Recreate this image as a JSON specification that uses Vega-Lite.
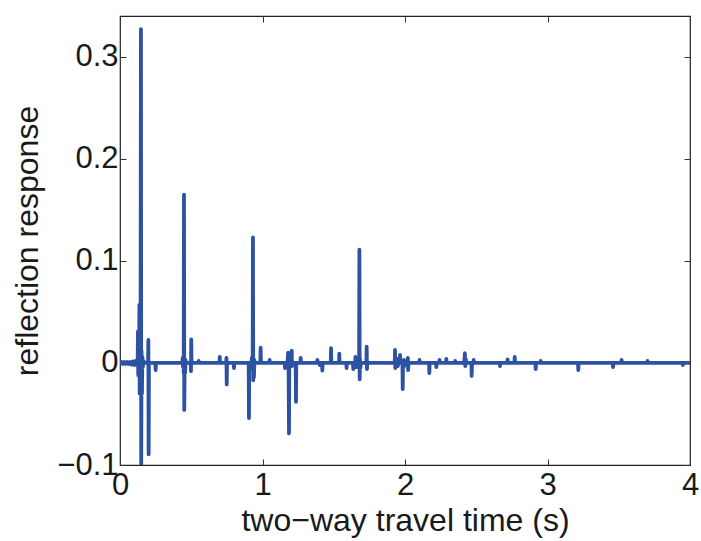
{
  "$schema": "https://vega.github.io/schema/vega-lite/v6.json",
  "autosize": "none",
  "width": 570,
  "height": 449,
  "padding": {"left": 120, "top": 16, "right": 11, "bottom": 76},
  "background": "white",
  "config": {
    "view": {"stroke": "#222222", "strokeWidth": 1.2},
    "font": "Liberation Sans",
    "axis": {
      "grid": false,
      "domain": false,
      "tickColor": "#333333",
      "tickWidth": 1,
      "tickSize": -6,
      "labelFont": "Liberation Sans",
      "labelFontSize": 31,
      "labelColor": "#1a1a1a",
      "titleFont": "Liberation Sans",
      "titleFontSize": 32,
      "titleFontWeight": "normal",
      "titleColor": "#1a1a1a"
    }
  },
  "data": {
    "values": [
      {"t": 0, "v": 0}, {"t": 0.01, "v": 0.001}, {"t": 0.02, "v": -0.001}, {"t": 0.03, "v": 0.001}, {"t": 0.04, "v": -0.001},
      {"t": 0.05, "v": 0.001}, {"t": 0.06, "v": -0.001}, {"t": 0.07, "v": 0.001}, {"t": 0.08, "v": -0.0015}, {"t": 0.09, "v": 0.0015},
      {"t": 0.10, "v": -0.002}, {"t": 0.11, "v": 0.002}, {"t": 0.118, "v": -0.002}, {"t": 0.122, "v": 0.003},
      {"t": 0.124, "v": 0}, {"t": 0.126, "v": 0.031}, {"t": 0.128, "v": -0.012}, {"t": 0.132, "v": 0.004}, {"t": 0.134, "v": -0.006},
      {"t": 0.136, "v": 0.057}, {"t": 0.138, "v": -0.03}, {"t": 0.141, "v": 0.01}, {"t": 0.144, "v": -0.005}, {"t": 0.147, "v": 0.327},
      {"t": 0.149, "v": -0.099}, {"t": 0.151, "v": 0.012}, {"t": 0.154, "v": -0.03}, {"t": 0.157, "v": 0.006}, {"t": 0.16, "v": -0.004},
      {"t": 0.165, "v": 0.002}, {"t": 0.17, "v": 0},
      {"t": 0.197, "v": 0}, {"t": 0.199, "v": 0.0225}, {"t": 0.201, "v": -0.0895}, {"t": 0.203, "v": 0},
      {"t": 0.248, "v": 0}, {"t": 0.25, "v": -0.007}, {"t": 0.252, "v": 0},
      {"t": 0.437, "v": 0}, {"t": 0.44, "v": 0.005}, {"t": 0.442, "v": -0.004}, {"t": 0.445, "v": 0.006}, {"t": 0.447, "v": -0.01},
      {"t": 0.449, "v": 0.165}, {"t": 0.451, "v": -0.046}, {"t": 0.454, "v": 0.004}, {"t": 0.457, "v": -0.01}, {"t": 0.46, "v": 0.003}, {"t": 0.463, "v": 0},
      {"t": 0.496, "v": 0}, {"t": 0.498, "v": -0.008}, {"t": 0.5, "v": 0.023}, {"t": 0.502, "v": 0},
      {"t": 0.55, "v": 0}, {"t": 0.552, "v": 0.002}, {"t": 0.554, "v": 0},
      {"t": 0.698, "v": 0}, {"t": 0.7, "v": 0.006}, {"t": 0.702, "v": 0},
      {"t": 0.745, "v": 0}, {"t": 0.747, "v": 0.005}, {"t": 0.749, "v": -0.021}, {"t": 0.751, "v": 0},
      {"t": 0.798, "v": 0}, {"t": 0.8, "v": -0.005}, {"t": 0.802, "v": 0},
      {"t": 0.903, "v": 0}, {"t": 0.905, "v": -0.054}, {"t": 0.907, "v": 0}, {"t": 0.92, "v": 0}, {"t": 0.922, "v": -0.004},
      {"t": 0.925, "v": 0.005}, {"t": 0.928, "v": -0.006}, {"t": 0.931, "v": 0}, {"t": 0.933, "v": 0.123}, {"t": 0.935, "v": -0.017},
      {"t": 0.937, "v": 0.004}, {"t": 0.94, "v": -0.014}, {"t": 0.943, "v": 0.003}, {"t": 0.946, "v": 0},
      {"t": 0.985, "v": 0}, {"t": 0.987, "v": 0.015}, {"t": 0.989, "v": 0},
      {"t": 1.048, "v": 0}, {"t": 1.05, "v": 0.003}, {"t": 1.052, "v": 0},
      {"t": 1.156, "v": 0}, {"t": 1.158, "v": -0.005}, {"t": 1.16, "v": 0}, {"t": 1.175, "v": 0}, {"t": 1.178, "v": 0.006},
      {"t": 1.18, "v": 0.01}, {"t": 1.183, "v": -0.003}, {"t": 1.186, "v": -0.069}, {"t": 1.188, "v": 0.004}, {"t": 1.19, "v": 0},
      {"t": 1.203, "v": 0}, {"t": 1.205, "v": 0.012}, {"t": 1.207, "v": -0.003}, {"t": 1.21, "v": 0},
      {"t": 1.233, "v": 0}, {"t": 1.235, "v": -0.038}, {"t": 1.237, "v": 0},
      {"t": 1.266, "v": 0}, {"t": 1.268, "v": 0.005}, {"t": 1.27, "v": 0},
      {"t": 1.383, "v": 0}, {"t": 1.385, "v": 0.003}, {"t": 1.387, "v": 0}, {"t": 1.4, "v": 0}, {"t": 1.402, "v": -0.002}, {"t": 1.404, "v": 0},
      {"t": 1.418, "v": 0}, {"t": 1.42, "v": -0.0075}, {"t": 1.422, "v": 0},
      {"t": 1.479, "v": 0}, {"t": 1.481, "v": 0.0144}, {"t": 1.483, "v": 0},
      {"t": 1.537, "v": 0}, {"t": 1.539, "v": 0.009}, {"t": 1.541, "v": 0},
      {"t": 1.588, "v": 0}, {"t": 1.59, "v": -0.005}, {"t": 1.592, "v": 0},
      {"t": 1.635, "v": 0}, {"t": 1.637, "v": -0.006}, {"t": 1.64, "v": 0}, {"t": 1.65, "v": 0}, {"t": 1.652, "v": 0.006},
      {"t": 1.655, "v": -0.004}, {"t": 1.66, "v": 0.003}, {"t": 1.665, "v": -0.004}, {"t": 1.67, "v": 0}, {"t": 1.678, "v": 0},
      {"t": 1.68, "v": 0.111}, {"t": 1.682, "v": -0.016}, {"t": 1.684, "v": 0.004}, {"t": 1.687, "v": -0.005}, {"t": 1.69, "v": 0},
      {"t": 1.729, "v": 0}, {"t": 1.731, "v": 0.016}, {"t": 1.733, "v": -0.006}, {"t": 1.735, "v": 0},
      {"t": 1.928, "v": 0}, {"t": 1.93, "v": 0.0127}, {"t": 1.932, "v": -0.005}, {"t": 1.934, "v": 0}, {"t": 1.945, "v": 0},
      {"t": 1.947, "v": 0.004}, {"t": 1.95, "v": -0.003}, {"t": 1.953, "v": 0},
      {"t": 1.963, "v": 0}, {"t": 1.965, "v": 0.008}, {"t": 1.967, "v": 0}, {"t": 1.982, "v": 0}, {"t": 1.984, "v": -0.0255},
      {"t": 1.986, "v": 0}, {"t": 1.99, "v": 0}, {"t": 1.992, "v": 0.003}, {"t": 1.995, "v": -0.003}, {"t": 1.998, "v": 0},
      {"t": 2.018, "v": 0}, {"t": 2.02, "v": 0.005}, {"t": 2.022, "v": -0.007}, {"t": 2.025, "v": 0},
      {"t": 2.1, "v": 0}, {"t": 2.102, "v": 0.003}, {"t": 2.104, "v": 0},
      {"t": 2.169, "v": 0}, {"t": 2.171, "v": -0.01}, {"t": 2.173, "v": 0},
      {"t": 2.218, "v": 0}, {"t": 2.22, "v": -0.004}, {"t": 2.222, "v": 0}, {"t": 2.24, "v": 0}, {"t": 2.242, "v": 0.003}, {"t": 2.244, "v": 0},
      {"t": 2.288, "v": 0}, {"t": 2.29, "v": 0.004}, {"t": 2.292, "v": 0},
      {"t": 2.35, "v": 0}, {"t": 2.352, "v": 0.002}, {"t": 2.354, "v": 0},
      {"t": 2.415, "v": 0}, {"t": 2.418, "v": 0.005}, {"t": 2.42, "v": 0.0095}, {"t": 2.423, "v": -0.003}, {"t": 2.426, "v": 0.004}, {"t": 2.43, "v": 0},
      {"t": 2.466, "v": 0}, {"t": 2.468, "v": -0.0127}, {"t": 2.47, "v": 0},
      {"t": 2.48, "v": 0}, {"t": 2.482, "v": 0.003}, {"t": 2.484, "v": 0},
      {"t": 2.665, "v": 0}, {"t": 2.667, "v": -0.003}, {"t": 2.669, "v": 0},
      {"t": 2.718, "v": 0}, {"t": 2.72, "v": 0.0036}, {"t": 2.722, "v": 0},
      {"t": 2.768, "v": 0}, {"t": 2.77, "v": 0.006}, {"t": 2.772, "v": 0},
      {"t": 2.915, "v": 0}, {"t": 2.917, "v": -0.006}, {"t": 2.919, "v": 0},
      {"t": 2.95, "v": 0}, {"t": 2.952, "v": 0.002}, {"t": 2.954, "v": 0},
      {"t": 3.214, "v": 0}, {"t": 3.216, "v": -0.007}, {"t": 3.218, "v": 0},
      {"t": 3.458, "v": 0}, {"t": 3.46, "v": -0.004}, {"t": 3.462, "v": 0},
      {"t": 3.518, "v": 0}, {"t": 3.52, "v": 0.003}, {"t": 3.522, "v": 0},
      {"t": 3.7, "v": 0}, {"t": 3.702, "v": 0.002}, {"t": 3.704, "v": 0},
      {"t": 3.948, "v": 0}, {"t": 3.95, "v": -0.002}, {"t": 3.952, "v": 0},
      {"t": 4.0, "v": 0}
    ]
  },
  "layer": [
    {
      "mark": {"type": "line", "color": "#2d51a3", "strokeWidth": 3.8, "strokeJoin": "round", "strokeCap": "round", "clip": true},
      "encoding": {
        "x": {"field": "t", "type": "quantitative", "scale": {"domain": [0, 4], "nice": false, "zero": false},
          "axis": {"values": [0, 1, 2, 3, 4], "format": "~g", "title": "two\u2212way travel time (s)", "labelPadding": 11, "titlePadding": 5, "labelFlush": false}},
        "y": {"field": "v", "type": "quantitative", "scale": {"domain": [-0.1, 0.34], "nice": false, "zero": false},
          "axis": {"values": [-0.1, 0, 0.1, 0.2, 0.3], "format": "~g", "title": "reflection response", "labelPadding": 8, "titlePadding": 12, "labelFlush": false}}
      }
    },
    {
      "mark": {"type": "point", "opacity": 0},
      "encoding": {
        "x": {"field": "t", "type": "quantitative", "axis": {"orient": "top", "values": [0, 1, 2, 3, 4], "labels": false, "title": null}},
        "y": {"field": "v", "type": "quantitative", "axis": {"orient": "right", "values": [-0.1, 0, 0.1, 0.2, 0.3], "labels": false, "title": null}}
      }
    }
  ],
  "resolve": {"axis": {"x": "independent", "y": "independent"}}
}
